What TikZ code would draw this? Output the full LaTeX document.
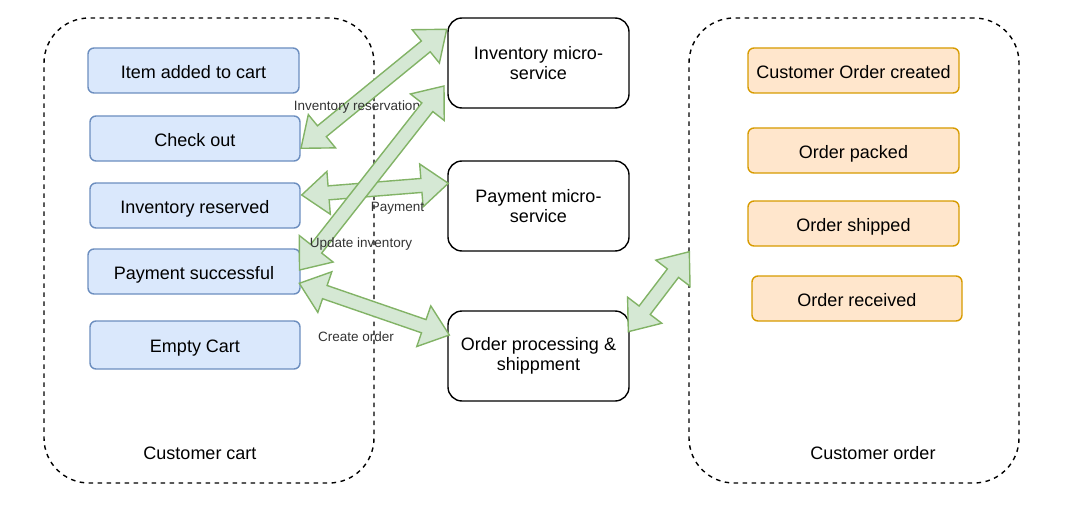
\documentclass[tikz,border=0pt]{standalone}
\usepackage{fontspec}
\setmainfont{Liberation Sans}
\usetikzlibrary{calc}
\definecolor{bluefill}{HTML}{DAE8FC}
\definecolor{bluedraw}{HTML}{6C8EBF}
\definecolor{orfill}{HTML}{FFE6CC}
\definecolor{ordraw}{HTML}{D79B00}
\definecolor{grfill}{HTML}{D5E8D4}
\definecolor{grdraw}{HTML}{82B366}
\definecolor{lbl}{HTML}{333333}
\newcommand{\flexdbl}[3]{%
 \coordinate (#1p) at ($(#2)!27pt!(#3)$);
 \coordinate (#1q) at ($(#3)!27pt!(#2)$);
 \filldraw[flexarrow] (#2) -- ($(#1p)!21.5pt!90:(#3)$) -- ($(#1p)!7pt!90:(#3)$)
   -- ($(#1q)!7pt!-90:(#2)$) -- ($(#1q)!21.5pt!-90:(#2)$) -- (#3)
   -- ($(#1q)!21.5pt!90:(#2)$) -- ($(#1q)!7pt!90:(#2)$)
   -- ($(#1p)!7pt!-90:(#3)$) -- ($(#1p)!21.5pt!-90:(#3)$) -- cycle;
}
\tikzset{
 cont/.style={draw=black, line width=1.4pt, dash pattern=on 4.5pt off 4.5pt, rounded corners=45pt, inner sep=0pt},
 basebox/.style={line width=1.4pt, inner sep=0pt, align=center, font=\fontsize{18}{20}\selectfont},
 onetext/.style={text height=15.6pt, text depth=0pt},
 bluebox/.style={basebox, onetext, draw=bluedraw, fill=bluefill, rounded corners=6pt, minimum height=45pt},
 orbox/.style={basebox, onetext, draw=ordraw, fill=orfill, rounded corners=6pt, minimum height=45pt},
 svc/.style={basebox, draw=black, rounded corners=14pt, minimum width=181pt, minimum height=90pt},
 lab/.style={inner sep=0pt, text=lbl, font=\fontsize{13.5}{15}\selectfont},
 title/.style={inner sep=0pt, font=\fontsize{18}{20}\selectfont},
 flexarrow/.style={draw=grdraw, fill=grfill, line width=1.4pt},
}
\begin{document}
\begin{tikzpicture}[x=1pt,y=-1pt]
\useasboundingbox (0,0) rectangle (1078,524);
% containers
\node[cont, minimum width=330pt, minimum height=465pt] (cart) at (209,250.5) {};
\node[title] (carttitle) at (200,453) {Customer cart};
\node[cont, minimum width=330pt, minimum height=465pt] (corder) at (854,250.5) {};
\node[title] (ordertitle) at (873,453) {Customer order};
% cart boxes
\node[bluebox, minimum width=211pt] (item) at (193.5,70.5) {Item added to cart};
\node[bluebox, minimum width=210pt] (checkout) at (195,138.5) {Check out};
\node[bluebox, minimum width=210pt] (invres) at (195,205.5) {Inventory reserved};
\node[bluebox, minimum width=212pt] (paysucc) at (194,271.5) {Payment successful};
\node[bluebox, minimum width=210pt, minimum height=48pt] (empty) at (195,345) {Empty Cart};
% services
\node[svc] (inv) at (538.5,63) {Inventory micro-\\service};
\node[svc] (pay) at (538.5,206) {Payment micro-\\service};
\node[svc] (proc) at (538.5,356) {Order processing \&\\shippment};
% order boxes
\node[orbox, minimum width=211pt] (created) at (853.5,70.5) {Customer Order created};
\node[orbox, minimum width=211pt] (packed) at (853.5,150.5) {Order packed};
\node[orbox, minimum width=211pt] (shipped) at (853.5,223.5) {Order shipped};
\node[orbox, minimum width=210pt] (received) at (857,298.5) {Order received};
% arrow end points
\coordinate (a1s) at (301,148.3);
\coordinate (a1e) at (446.7,29.3);
\coordinate (a2s) at (299.5,270);
\coordinate (a2e) at (444,86);
\coordinate (a3s) at (301.7,195);
\coordinate (a3e) at (448.3,183.3);
\coordinate (a4s) at (299.3,283.3);
\coordinate (a4e) at (449.3,335);
\coordinate (a5s) at (628.3,331.7);
\coordinate (a5e) at (689.3,251.7);
% arrows and labels
\flexdbl{aa}{a1s}{a1e}
\node[lab] (l1) at (357,107) {Inventory reservation};
\flexdbl{ac}{a3s}{a3e}
\node[lab] (l3) at (397.5,208) {Payment};
\flexdbl{ab}{a2s}{a2e}
\node[lab] (l2) at (361,244) {Update inventory};
\flexdbl{ad}{a4s}{a4e}
\node[lab] (l4) at (356,337) {Create order};
\flexdbl{ae}{a5s}{a5e}
\end{tikzpicture}
\end{document}
